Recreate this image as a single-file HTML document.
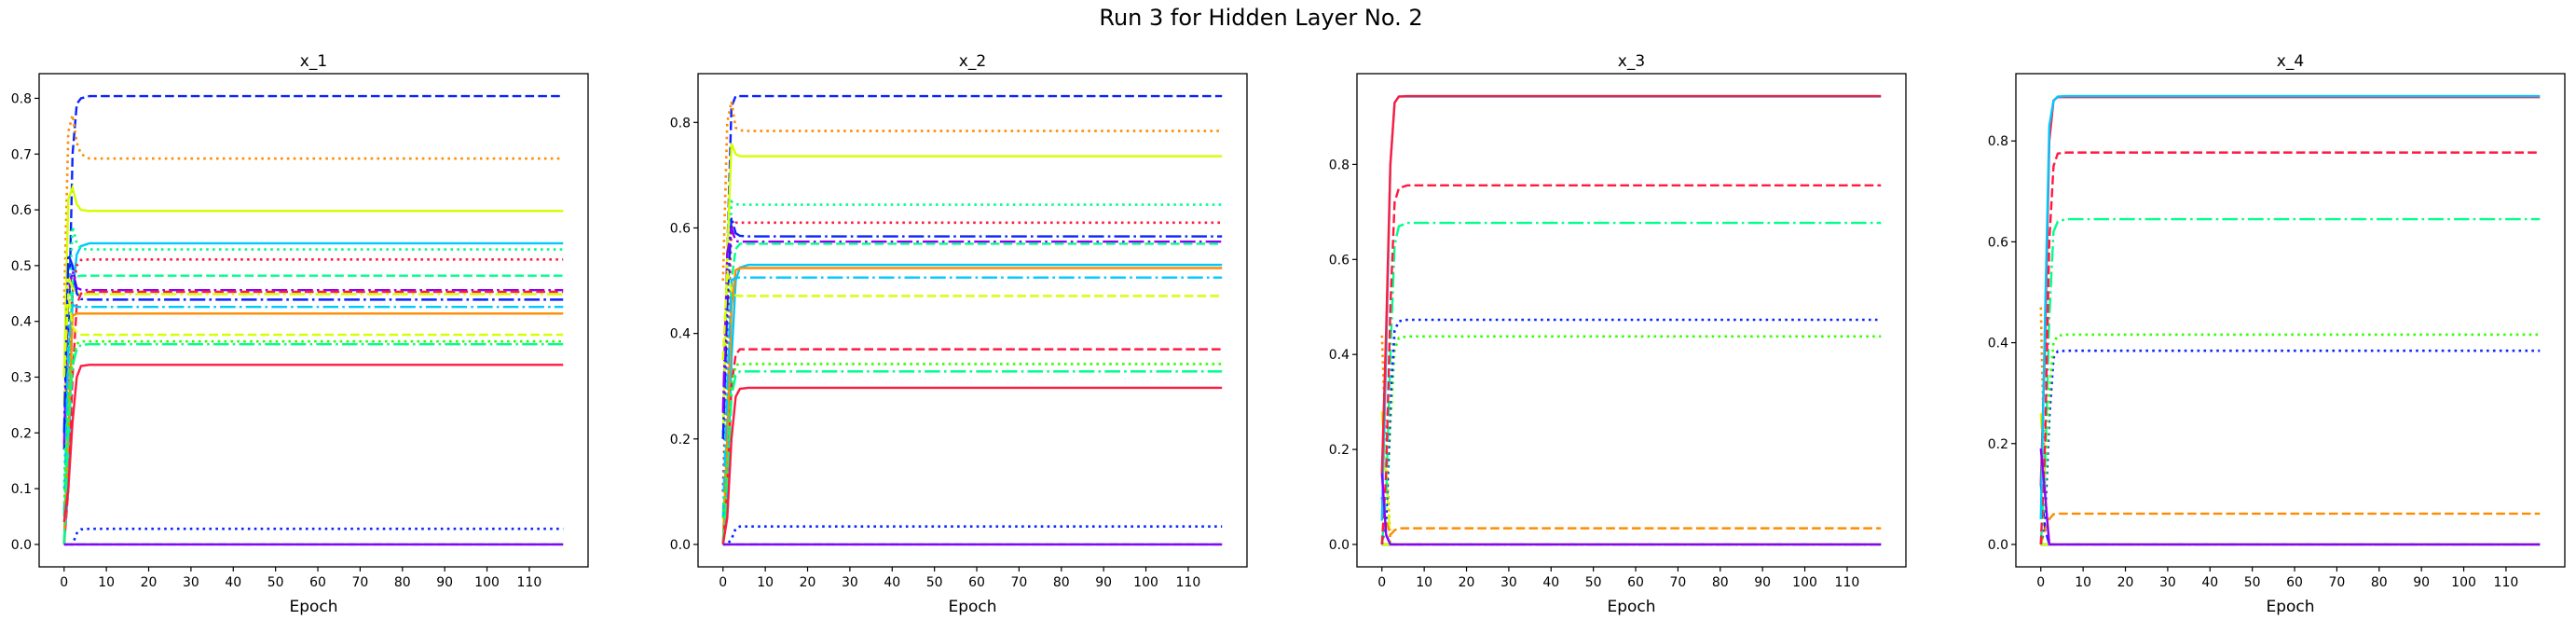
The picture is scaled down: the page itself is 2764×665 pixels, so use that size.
<!DOCTYPE html>
<html><head><meta charset="utf-8">
<style>
html,body{margin:0;padding:0;background:#fff;}
svg{display:block;font-family:"DejaVu Sans","Liberation Sans",sans-serif;}
</style></head>
<body>
<svg id="fig" width="2764" height="665" viewBox="0 0 2764 665" xmlns="http://www.w3.org/2000/svg">
<rect width="2764" height="665" fill="#fff"/>
<text x="1353" y="27" font-size="24" text-anchor="middle">Run 3 for Hidden Layer No. 2</text>
</svg>
<script>
// ---- data ----
const panelTitles = ["x_1", "x_2", "x_3", "x_4"];
const xTicks = [0,10,20,30,40,50,60,70,80,90,100,110];
const yTicks1 = [0,0.1,0.2,0.3,0.4,0.5,0.6,0.7,0.8];
const yTicks234 = [0,0.2,0.4,0.6,0.8];
const earlyEpochs = [0,1,2,3,4];
const plateauStart = 6;
const lastEpoch = 118;

// each row: [color, style, v0, v1, v2, v3, v4, final]
const p1Series = [
 ["blue","dashed",0.17,0.35,0.70,0.79,0.80,0.804],
 ["orange","dotted",0.43,0.74,0.77,0.72,0.70,0.692],
 ["yellow","solid",0.30,0.62,0.64,0.61,0.60,0.598],
 ["cyan","solid",0.0,0.10,0.45,0.52,0.535,0.540],
 ["spring","dotted",0.10,0.40,0.57,0.54,0.53,0.529],
 ["red","dotted",0.05,0.30,0.45,0.50,0.51,0.511],
 ["spring","dashed",0.0,0.30,0.47,0.48,0.482,0.482],
 ["purple","dashdot",0.18,0.45,0.49,0.46,0.457,0.456],
 ["red","dashed",0.0,0.10,0.30,0.43,0.45,0.453],
 ["yellow","dashdot",0.25,0.48,0.46,0.45,0.449,0.449],
 ["blue","dashdot",0.20,0.52,0.50,0.45,0.44,0.439],
 ["cyan","dashdot",0.05,0.35,0.43,0.426,0.426,0.426],
 ["orange","solid",0.0,0.20,0.41,0.414,0.414,0.414],
 ["yellow","dashed",0.30,0.45,0.39,0.38,0.376,0.376],
 ["green","dotted",0.05,0.25,0.33,0.36,0.364,0.364],
 ["spring","dashdot",0.0,0.20,0.32,0.35,0.358,0.359],
 ["red","solid",0.04,0.10,0.22,0.30,0.32,0.322],
 ["blue","dotted",0,0,0,0.02,0.027,0.028],
 ["orange","dashed",0,0,0,0,0,0],
 ["green","solid",0,0,0,0,0,0],
 ["cyan","dashed",0,0,0,0,0,0],
 ["purple","solid",0,0,0,0,0,0]
];
const p2Series = [
 ["blue","dashed",0.20,0.55,0.83,0.85,0.85,0.850],
 ["orange","dotted",0.50,0.80,0.84,0.79,0.785,0.784],
 ["yellow","solid",0.20,0.55,0.76,0.74,0.736,0.736],
 ["spring","dotted",0.10,0.40,0.65,0.645,0.644,0.644],
 ["red","dotted",0.10,0.35,0.60,0.61,0.61,0.610],
 ["blue","dashdot",0.20,0.45,0.62,0.59,0.585,0.584],
 ["purple","dashdot",0.25,0.55,0.60,0.575,0.574,0.574],
 ["spring","dashed",0.0,0.25,0.50,0.56,0.57,0.570],
 ["cyan","solid",0.0,0.10,0.35,0.50,0.525,0.530],
 ["orange","solid",0.0,0.20,0.45,0.52,0.524,0.524],
 ["cyan","dashdot",0.05,0.30,0.50,0.506,0.506,0.506],
 ["yellow","dashed",0.35,0.52,0.48,0.472,0.471,0.471],
 ["red","dashed",0.0,0.10,0.30,0.36,0.37,0.370],
 ["green","dotted",0.05,0.15,0.30,0.34,0.342,0.342],
 ["spring","dashdot",0.0,0.10,0.28,0.32,0.328,0.328],
 ["red","solid",0.0,0.05,0.20,0.28,0.295,0.297],
 ["blue","dotted",0,0,0.01,0.03,0.034,0.034],
 ["orange","dashed",0,0,0,0,0,0],
 ["green","solid",0,0,0,0,0,0],
 ["cyan","dashed",0,0,0,0,0,0],
 ["purple","solid",0,0,0,0,0,0]
];
const p3Series = [
 ["orange","dotted",0.44,0.20,0,0,0,0],
 ["yellow","dashdot",0.28,0.15,0,0,0,0],
 ["blue","dashed",0.10,0.02,0,0,0,0],
 ["yellow","solid",0,0,0,0,0,0],
 ["spring","dashed",0,0,0,0,0,0],
 ["cyan","dashdot",0,0,0,0,0,0],
 ["purple","dashdot",0,0,0,0,0,0],
 ["red","dotted",0,0,0,0,0,0],
 ["green","solid",0,0,0,0,0,0],
 ["yellow","dashed",0,0,0,0,0,0],
 ["orange","dashed",0.0,0.05,0.02,0.03,0.034,0.034],
 ["green","dotted",0.0,0.05,0.25,0.41,0.435,0.438],
 ["blue","dotted",0.0,0.05,0.30,0.45,0.47,0.473],
 ["spring","dashdot",0.0,0.10,0.40,0.63,0.67,0.677],
 ["red","dashed",0.0,0.15,0.50,0.72,0.75,0.756],
 ["cyan","solid",0.05,0.40,0.80,0.93,0.943,0.943],
 ["red","solid",0.15,0.45,0.80,0.93,0.943,0.944],
 ["purple","solid",0.15,0.02,0,0,0,0]
];
const p4Series = [
 ["orange","dotted",0.47,0.10,0,0,0,0],
 ["yellow","dashdot",0.26,0.10,0,0,0,0],
 ["blue","dashed",0.12,0.03,0,0,0,0],
 ["yellow","solid",0,0,0,0,0,0],
 ["spring","dashed",0,0,0,0,0,0],
 ["cyan","dashdot",0,0,0,0,0,0],
 ["purple","dashdot",0,0,0,0,0,0],
 ["red","dotted",0,0,0,0,0,0],
 ["green","solid",0,0,0,0,0,0],
 ["yellow","dashed",0,0,0,0,0,0],
 ["orange","dashed",0.0,0.03,0.05,0.06,0.061,0.061],
 ["blue","dotted",0.0,0.05,0.25,0.37,0.383,0.384],
 ["green","dotted",0.0,0.10,0.30,0.40,0.414,0.416],
 ["spring","dashdot",0.0,0.15,0.45,0.62,0.64,0.645],
 ["red","dashed",0.0,0.20,0.60,0.75,0.775,0.777],
 ["red","solid",0.12,0.40,0.80,0.88,0.887,0.887],
 ["cyan","solid",0.05,0.45,0.83,0.88,0.888,0.889],
 ["purple","solid",0.19,0.10,0,0,0,0]
];

// ---- styling ----
const palette = {red:"#ff1a40",orange:"#ff8c00",yellow:"#d4ff00",green:"#33ff00",spring:"#00ff8c",cyan:"#00c8ff",blue:"#0a24ff",purple:"#8c00ff"};
const dashes = {solid:"",dashed:"9.6 4.2",dotted:"2.6 4.3",dashdot:"16.6 4.2 2.6 4.2"};
const NS = "http://www.w3.org/2000/svg";
const svg = document.getElementById("fig");
const axLefts = [42,749,1456,2163];
const axW = 589, axTop = 79, axH = 529;

function mk(tag, attrs, parent){
  const e = document.createElementNS(NS, tag);
  for (const k in attrs) e.setAttribute(k, attrs[k]);
  (parent||svg).appendChild(e);
  return e;
}

const allSeries = [p1Series,p2Series,p3Series,p4Series];
allSeries.forEach((series, pi) => {
  const L = axLefts[pi];
  const g = mk("g", {});
  
  
  let maxV = 0;
  series.forEach(s => { for (let i=2;i<8;i++) maxV = Math.max(maxV, s[i]); });
  const xmin = -0.05*lastEpoch, xmax = lastEpoch*1.05;
  const ymin = -0.05*maxV, ymax = maxV*1.05;
  const xs = v => L + (v - xmin)/(xmax - xmin)*axW;
  const ys = v => axTop + axH - (v - ymin)/(ymax - ymin)*axH;

  const clipId = "clip"+pi;
  const cp = mk("clipPath", {id:clipId}, g);
  mk("rect", {x:L, y:axTop, width:axW, height:axH}, cp);

  const lg = mk("g", {"clip-path":"url(#"+clipId+")"}, g);
  series.forEach((s, si) => {
    const pts = [];
    earlyEpochs.forEach((ep, k) => pts.push(xs(ep).toFixed(2)+","+ys(s[2+k]).toFixed(2)));
    pts.push(xs(plateauStart).toFixed(2)+","+ys(s[7]).toFixed(2));
    pts.push(xs(lastEpoch).toFixed(2)+","+ys(s[7]).toFixed(2));
    const pl = mk("polyline", {points:pts.join(" "), fill:"none", stroke:palette[s[0]], "stroke-width": s[1]==="dotted"?2.6:2.4, "stroke-dasharray":dashes[s[1]]}, lg);
    
    
  });

  const frame = mk("rect", {x:L, y:axTop, width:axW, height:axH, fill:"none", stroke:"#000", "stroke-width":1.3}, g);
  
  

  xTicks.forEach(t => {
    const x = xs(t);
    mk("line", {x1:x, x2:x, y1:axTop+axH, y2:axTop+axH+5, stroke:"#000", "stroke-width":1.2}, g);
    const tx = mk("text", {x:x, y:axTop+axH+21, "font-size":14, "text-anchor":"middle"}, g);
    tx.textContent = t;
    
    
  });
  const yt = pi===0 ? yTicks1 : yTicks234;
  yt.forEach(t => {
    const y = ys(t);
    mk("line", {x1:L-5, x2:L, y1:y, y2:y, stroke:"#000", "stroke-width":1.2}, g);
    const tx = mk("text", {x:L-8, y:y+5, "font-size":14, "text-anchor":"end"}, g);
    tx.textContent = t.toFixed(1);
    
    
  });

  const ttl = mk("text", {x:L+axW/2, y:71, "font-size":17, "text-anchor":"middle"}, g);
  ttl.textContent = panelTitles[pi];
  
  

  const xl = mk("text", {x:L+axW/2, y:656, "font-size":17, "text-anchor":"middle"}, g);
  xl.textContent = "Epoch";
  
  
});
</script>
</body></html>
